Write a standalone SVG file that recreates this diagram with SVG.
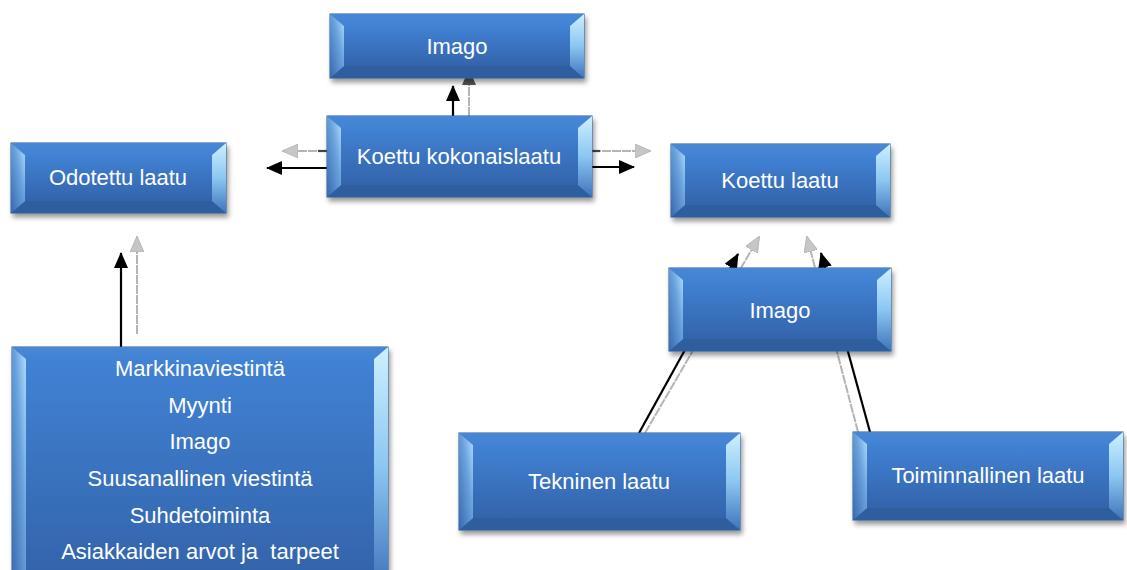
<svg xmlns="http://www.w3.org/2000/svg" width="1127" height="570" viewBox="0 0 1127 570">
  <style>
    .base { fill: #3a72c0; stroke: #2b5a96; stroke-width: 1; filter: url(#shadow); }
    .face { fill: url(#gFace); }
    .top { fill: url(#gTop); }
    .bot { fill: #2f5e9e; }
    .lft { fill: url(#gLeft); }
    .rgt { fill: url(#gRight); }
    .label { fill: #ffffff; font-family: "Liberation Sans", Arial, sans-serif; font-size: 22px; text-anchor: middle; }
    .blk { stroke: #000000; stroke-width: 2.2; fill: none; marker-end: url(#arrBlack); }
    .gry { stroke: #b4b4b4; stroke-width: 2; stroke-dasharray: 9 1; fill: none; marker-end: url(#arrGray); }
    .gryDark { stroke: #b4b4b4; stroke-width: 2; stroke-dasharray: 9 1; fill: none; marker-end: url(#arrDark); }
    .stub { stroke: #444444; stroke-width: 2.2; }
  </style>
  <defs>
    <filter id="shadow" x="-10%" y="-10%" width="130%" height="140%">
      <feDropShadow dx="2" dy="4" stdDeviation="2.5" flood-color="#000000" flood-opacity="0.4"/>
    </filter>
    <linearGradient id="gFace" x1="0" y1="0" x2="0" y2="1">
      <stop offset="0" stop-color="#4182d4"/>
      <stop offset="1" stop-color="#3364ab"/>
    </linearGradient>
    <linearGradient id="gTop" x1="0" y1="0" x2="0" y2="1">
      <stop offset="0" stop-color="#4887d4"/>
      <stop offset="1" stop-color="#4283d4"/>
    </linearGradient>
    <linearGradient id="gLeft" x1="1" y1="0" x2="0" y2="1">
      <stop offset="0" stop-color="#b0defc"/>
      <stop offset="0.4" stop-color="#6aa3de"/>
      <stop offset="1" stop-color="#3868ad"/>
    </linearGradient>
    <linearGradient id="gRight" x1="0" y1="0" x2="0" y2="1">
      <stop offset="0" stop-color="#cdf0ff"/>
      <stop offset="0.5" stop-color="#8cc6f2"/>
      <stop offset="1" stop-color="#3f74bb"/>
    </linearGradient>
    <marker id="arrBlack" viewBox="0 0 16 14" refX="15" refY="7" markerWidth="16" markerHeight="14" markerUnits="userSpaceOnUse" orient="auto">
      <path d="M0,0 L16,7 L0,14 Z" fill="#000000"/>
    </marker>
    <marker id="arrGray" viewBox="0 0 16 14" refX="15" refY="7" markerWidth="16" markerHeight="14" markerUnits="userSpaceOnUse" orient="auto">
      <path d="M0,0 L16,7 L0,14 Z" fill="#c6c6c6" stroke="#b0b0b0" stroke-width="0.8"/>
    </marker>
    <marker id="arrDark" viewBox="0 0 16 14" refX="15" refY="7" markerWidth="16" markerHeight="14" markerUnits="userSpaceOnUse" orient="auto">
      <path d="M0,0 L16,7 L0,14 Z" fill="#555555"/>
    </marker>
  </defs>

  <!-- connectors, drawn first so boxes sit on top -->
  <g id="connectors">
    <!-- Koettu kokonaislaatu -> Imago (top) -->
    <line class="blk" x1="453" y1="116" x2="453" y2="86"/>
    <line class="gryDark" x1="469" y1="116" x2="469" y2="70"/>
    <!-- Koettu kokonaislaatu -> Odotettu laatu -->
    <line class="gry" x1="327" y1="151" x2="283" y2="151"/>
    <line class="stub" x1="318" y1="151" x2="327" y2="151"/>
    <line class="blk" x1="327" y1="168" x2="267" y2="168"/>
    <!-- Koettu kokonaislaatu -> Koettu laatu -->
    <line class="gry" x1="592" y1="151" x2="650" y2="151"/>
    <line class="stub" x1="592" y1="151" x2="600" y2="151"/>
    <line class="blk" x1="592" y1="167" x2="634" y2="167"/>
    <!-- list box -> Odotettu laatu -->
    <line class="blk" x1="121" y1="347" x2="121" y2="253"/>
    <line class="gry" x1="137" y1="334" x2="137" y2="237"/>
    <!-- Tekninen laatu -> Koettu laatu -->
    <line class="blk" x1="639" y1="433" x2="738" y2="254"/>
    <line class="gry" x1="645" y1="433" x2="759" y2="237"/>
    <!-- Toiminnallinen laatu -> Koettu laatu -->
    <line class="blk" x1="870" y1="432" x2="821" y2="253"/>
    <line class="gry" x1="858" y1="432" x2="807" y2="237"/>
  </g>

  <!-- Imago (top) : x330 y14 w254 h64 -->
  <g id="imago-top">
    <rect class="base" x="330" y="14" width="254" height="64"/>
    <rect class="face" x="344" y="26" width="226" height="40"/>
    <polygon class="top" points="330,14 584,14 570,26 344,26"/>
    <polygon class="bot" points="330,78 584,78 570,66 344,66"/>
    <polygon class="lft" points="330,14 344,26 344,66 330,78"/>
    <polygon class="rgt" points="584,14 570,26 570,66 584,78"/>
    <text class="label" x="457" y="54">Imago</text>
  </g>

  <!-- Koettu kokonaislaatu : x327 y116 w265 h81 -->
  <g id="koettu-kokonaislaatu">
    <rect class="base" x="327" y="116" width="265" height="81"/>
    <rect class="face" x="341" y="128" width="237" height="57"/>
    <polygon class="top" points="327,116 592,116 578,128 341,128"/>
    <polygon class="bot" points="327,197 592,197 578,185 341,185"/>
    <polygon class="lft" points="327,116 341,128 341,185 327,197"/>
    <polygon class="rgt" points="592,116 578,128 578,185 592,197"/>
    <text class="label" x="459" y="164">Koettu kokonaislaatu</text>
  </g>

  <!-- Odotettu laatu : x11 y143 w215 h70 -->
  <g id="odotettu-laatu">
    <rect class="base" x="11" y="143" width="215" height="70"/>
    <rect class="face" x="25" y="155" width="187" height="46"/>
    <polygon class="top" points="11,143 226,143 212,155 25,155"/>
    <polygon class="bot" points="11,213 226,213 212,201 25,201"/>
    <polygon class="lft" points="11,143 25,155 25,201 11,213"/>
    <polygon class="rgt" points="226,143 212,155 212,201 226,213"/>
    <text class="label" x="118" y="185">Odotettu laatu</text>
  </g>

  <!-- Koettu laatu : x671 y144 w219 h73 -->
  <g id="koettu-laatu">
    <rect class="base" x="671" y="144" width="219" height="73"/>
    <rect class="face" x="685" y="156" width="191" height="49"/>
    <polygon class="top" points="671,144 890,144 876,156 685,156"/>
    <polygon class="bot" points="671,217 890,217 876,205 685,205"/>
    <polygon class="lft" points="671,144 685,156 685,205 671,217"/>
    <polygon class="rgt" points="890,144 876,156 876,205 890,217"/>
    <text class="label" x="780" y="188">Koettu laatu</text>
  </g>

  <!-- Imago (right) : x669 y268 w222 h83 -->
  <g id="imago-right">
    <rect class="base" x="669" y="268" width="222" height="83"/>
    <rect class="face" x="683" y="280" width="194" height="59"/>
    <polygon class="top" points="669,268 891,268 877,280 683,280"/>
    <polygon class="bot" points="669,351 891,351 877,339 683,339"/>
    <polygon class="lft" points="669,268 683,280 683,339 669,351"/>
    <polygon class="rgt" points="891,268 877,280 877,339 891,351"/>
    <text class="label" x="780" y="318">Imago</text>
  </g>

  <!-- list box : x12 y347 w376, runs past the bottom edge -->
  <g id="tekijat">
    <rect class="base" x="12" y="347" width="376" height="240"/>
    <rect class="face" x="26" y="359" width="348" height="216"/>
    <polygon class="top" points="12,347 388,347 374,359 26,359"/>
    <polygon class="bot" points="12,587 388,587 374,575 26,575"/>
    <polygon class="lft" points="12,347 26,359 26,575 12,587"/>
    <polygon class="rgt" points="388,347 374,359 374,575 388,587"/>
    <text class="label" x="200" y="376">Markkinaviestintä</text>
    <text class="label" x="200" y="413">Myynti</text>
    <text class="label" x="200" y="449">Imago</text>
    <text class="label" x="200" y="486">Suusanallinen viestintä</text>
    <text class="label" x="200" y="523">Suhdetoiminta</text>
    <text class="label" x="200" y="559" xml:space="preserve">Asiakkaiden arvot ja  tarpeet</text>
  </g>

  <!-- Tekninen laatu : x459 y433 w281 h97 -->
  <g id="tekninen-laatu">
    <rect class="base" x="459" y="433" width="281" height="97"/>
    <rect class="face" x="473" y="445" width="253" height="73"/>
    <polygon class="top" points="459,433 740,433 726,445 473,445"/>
    <polygon class="bot" points="459,530 740,530 726,518 473,518"/>
    <polygon class="lft" points="459,433 473,445 473,518 459,530"/>
    <polygon class="rgt" points="740,433 726,445 726,518 740,530"/>
    <text class="label" x="599" y="489">Tekninen laatu</text>
  </g>

  <!-- Toiminnallinen laatu : x853 y432 w270 h88 -->
  <g id="toiminnallinen-laatu">
    <rect class="base" x="853" y="432" width="270" height="88"/>
    <rect class="face" x="867" y="444" width="242" height="64"/>
    <polygon class="top" points="853,432 1123,432 1109,444 867,444"/>
    <polygon class="bot" points="853,520 1123,520 1109,508 867,508"/>
    <polygon class="lft" points="853,432 867,444 867,508 853,520"/>
    <polygon class="rgt" points="1123,432 1109,444 1109,508 1123,520"/>
    <text class="label" x="988" y="483">Toiminnallinen laatu</text>
  </g>
</svg>
